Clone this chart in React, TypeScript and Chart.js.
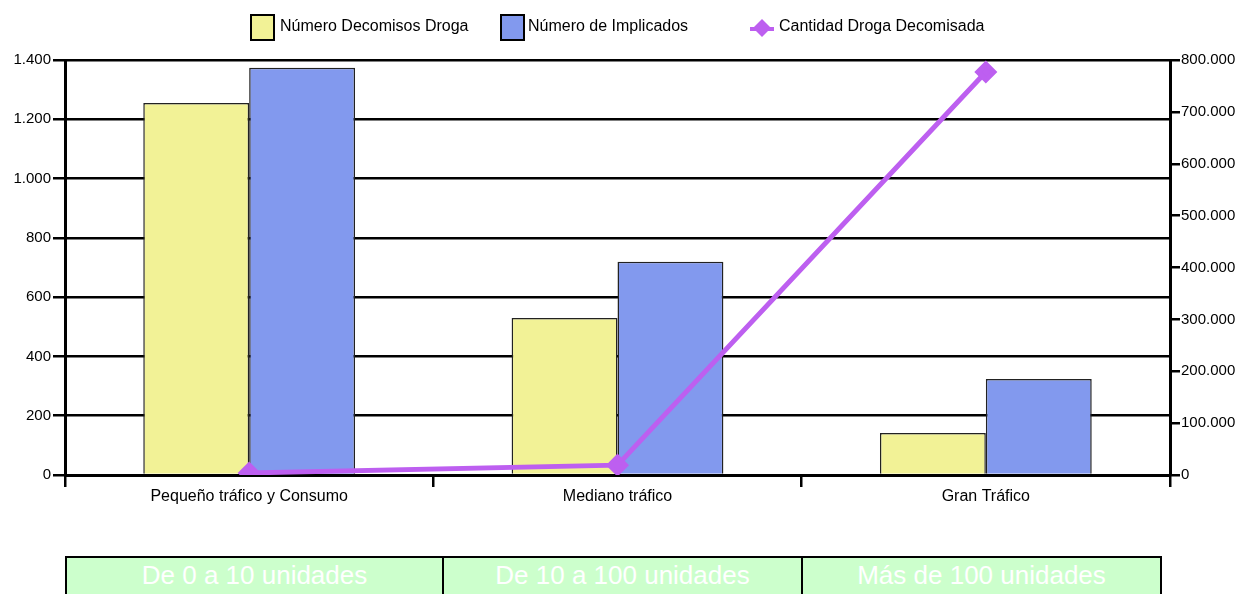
import React, { useEffect, useRef } from "react";
import { Chart, registerables } from "chart.js";

Chart.register(...registerables);

const categories = ["Pequeño tráfico y Consumo", "Mediano tráfico", "Gran Tráfico"];
const decomisos = [1255, 530, 142];
const implicados = [1374, 719, 324];
const cantidad = [4000, 19000, 777000];
const seriesNames = ["Número Decomisos Droga", "Número de Implicados", "Cantidad Droga Decomisada"];
const rangeLabels = ["De 0 a 10 unidades", "De 10 a 100 unidades", "Más de 100 unidades"];

const YELLOW = "#f2f296";
const BLUE = "#8299ee";
const PURPLE = "#bd5ff0";
const FONT = "'Liberation Sans', Arial, sans-serif";

const fmt = (v: number) => String(Math.round(v)).replace(/\B(?=(\d{3})+(?!\d))/g, ".");

const legendPlugin = {
  id: "customLegend",
  afterDraw(chart: any) {
    const ctx = chart.ctx;
    ctx.save();
    ctx.font = `16px ${FONT}`;
    ctx.textBaseline = "middle";
    const cy = 27;
    ctx.strokeStyle = "#000";
    ctx.lineWidth = 2;
    // box 1
    ctx.fillStyle = YELLOW;
    ctx.fillRect(251, 15, 23, 25);
    ctx.strokeRect(251, 15, 23, 25);
    ctx.fillStyle = "#000";
    ctx.fillText(seriesNames[0], 280, cy);
    // box 2
    ctx.fillStyle = BLUE;
    ctx.fillRect(501, 15, 23, 25);
    ctx.strokeRect(501, 15, 23, 25);
    ctx.fillStyle = "#000";
    ctx.fillText(seriesNames[1], 528, cy);
    // line marker
    ctx.strokeStyle = PURPLE;
    ctx.lineWidth = 4;
    ctx.beginPath();
    ctx.moveTo(750, 29);
    ctx.lineTo(774, 29);
    ctx.stroke();
    ctx.fillStyle = PURPLE;
    ctx.beginPath();
    ctx.moveTo(762, 19);
    ctx.lineTo(771, 28);
    ctx.lineTo(762, 37);
    ctx.lineTo(753, 28);
    ctx.closePath();
    ctx.fill();
    ctx.fillStyle = "#000";
    ctx.fillText(seriesNames[2], 779, cy);
    ctx.restore();
  },
};

const cellEdges = [66, 443, 802, 1161];

export default function App() {
  const ref = useRef<HTMLCanvasElement>(null);
  useEffect(() => {
    document.body.style.margin = "0";
    const chart = new Chart(ref.current!, {
      type: "bar",
      data: {
        labels: categories,
        datasets: [
          {
            type: "line",
            label: seriesNames[2],
            data: cantidad,
            yAxisID: "y1",
            borderColor: PURPLE,
            backgroundColor: PURPLE,
            borderWidth: 5,
            pointStyle: "rectRot",
            pointRadius: 8,
            pointBackgroundColor: PURPLE,
            pointBorderColor: PURPLE,
            order: 0,
          } as any,
          {
            label: seriesNames[0],
            data: decomisos,
            backgroundColor: YELLOW,
            borderColor: "#222",
            borderWidth: 1.5,
            yAxisID: "y",
            categoryPercentage: 0.575,
            barPercentage: 1,
            order: 1,
          },
          {
            label: seriesNames[1],
            data: implicados,
            backgroundColor: BLUE,
            borderColor: "#222",
            borderWidth: 1.5,
            yAxisID: "y",
            categoryPercentage: 0.575,
            barPercentage: 1,
            order: 1,
          },
        ],
      },
      options: {
        animation: false,
        responsive: false,
        layout: { padding: { top: 60, left: 0, right: 0, bottom: 0 } },
        plugins: { legend: { display: false }, tooltip: { enabled: false } },
        scales: {
          x: {
            grid: {
              offset: true,
              drawOnChartArea: false,
              drawTicks: true,
              tickLength: 12,
              color: "#000",
              lineWidth: 2.5,
            },
            border: { color: "#000", width: 3 },
            ticks: { color: "#000", font: { family: FONT, size: 16 }, padding: 0, maxRotation: 0 },
            afterFit: (s: any) => { s.height = 119; },
          },
          y: {
            position: "left",
            min: 0,
            max: 1400,
            grid: { color: "#000", lineWidth: 2.5, tickLength: 12 },
            border: { color: "#000", width: 3 },
            ticks: {
              stepSize: 200,
              color: "#000",
              font: { family: FONT, size: 15 },
              padding: 2,
              callback: (v: any) => fmt(Number(v)),
            },
            afterFit: (s: any) => { s.width = 65; },
          },
          y1: {
            position: "right",
            min: 0,
            max: 800000,
            grid: { drawOnChartArea: false, color: "#000", lineWidth: 2.5, tickLength: 10 },
            border: { color: "#000", width: 3 },
            ticks: {
              stepSize: 100000,
              color: "#000",
              font: { family: FONT, size: 15 },
              padding: 1,
              callback: (v: any) => fmt(Number(v)),
            },
            afterFit: (s: any) => { s.width = 74; },
          },
        },
      },
      plugins: [legendPlugin],
    });
    return () => chart.destroy();
  }, []);

  return (
    <div style={{ position: "fixed", left: 0, top: 0, width: 1244, height: 594, overflow: "hidden", background: "#fff" }}>
      <canvas ref={ref} width={1244} height={594} style={{ position: "absolute", left: 0, top: 0 }} />
      {rangeLabels.map((t, i) => (
        <div
          key={t}
          style={{
            position: "absolute",
            left: cellEdges[i] - 1,
            top: 556,
            width: cellEdges[i + 1] - cellEdges[i] + 2,
            height: 50,
            boxSizing: "border-box",
            border: "2px solid #000",
            background: "#ccffcc",
            color: "#fff",
            fontFamily: FONT,
            fontSize: 26,
            lineHeight: "34px",
            textAlign: "center",
          }}
        >
          {t}
        </div>
      ))}
    </div>
  );
}
